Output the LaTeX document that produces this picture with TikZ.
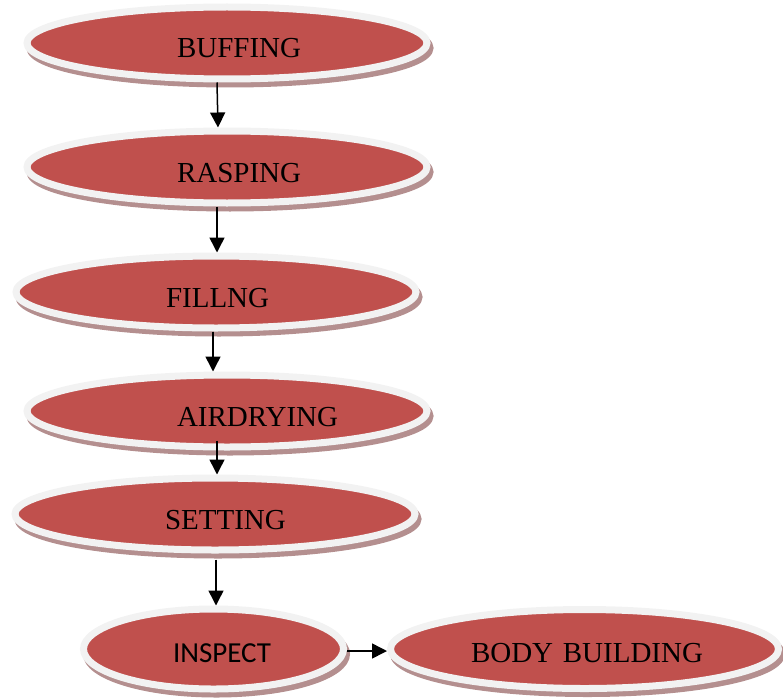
\documentclass[tikz,border=0pt]{standalone}
\usepackage{fontspec}
\setmainfont{Liberation Serif}
\newfontfamily\calibrifont{Carlito}
\usepackage{xcolor}
\usepackage{tikz}
\usetikzlibrary{arrows.meta,positioning,shapes.geometric,shadows}

\definecolor{stagered}{HTML}{C0504D}
\definecolor{stagering}{HTML}{F2F2F2}
\definecolor{stageshade}{HTML}{B48F8F}

\begin{document}
\begin{tikzpicture}[
  stage/.style={ellipse, draw=stagering, line width=7pt, fill=stagered,
                minimum width=400pt, minimum height=72pt, inner sep=0pt,
                text width=100pt, align=left, text height=30pt, text depth=0pt,
                font=\fontsize{29}{33}\selectfont,
                drop shadow={shadow xshift=3pt, shadow yshift=-5pt,
                             fill=stageshade, draw=stageshade, opacity=1}},
  endstage/.style={ellipse, draw=stagering, line width=7pt, fill=stagered,
                   inner sep=0pt, text height=26pt, text depth=0pt,
                   font=\fontsize{29}{33}\selectfont,
                   drop shadow={shadow xshift=3pt, shadow yshift=-5pt,
                                fill=stageshade, draw=stageshade, opacity=1}},
  arrow/.style={-{Triangle[length=15pt, width=15pt]}, line width=1.5pt}
]
  \useasboundingbox (0,0) rectangle (783pt,-698pt);

  % --- main column -------------------------------------------------
  \node[stage] (buff) at (227pt,-43pt) {BUFFING};
  \node[stage, below=45pt of buff] (rasp) {RASPING};
  \node[stage, below=46pt of rasp, xshift=-11pt] (filling) {FILLNG};
  \node[stage, below=40pt of filling, xshift=11pt] (air) {AIRDRYING};
  \node[stage, below=24pt of air, xshift=-12pt] (setting) {SETTING};

  % --- bottom row --------------------------------------------------
  \node[endstage, minimum width=260pt, minimum height=80pt,
        text width=81pt, align=left,
        below=52pt of setting, xshift=-1.5pt] (insp) {\calibrifont INSPECT};
  \node[endstage, minimum width=388pt, minimum height=79pt,
        text width=237pt, align=right,
        right=40pt of insp] (body) {BODY BUILDING};

  % --- arrows -------------------------------------------------------
  \draw[arrow] ([xshift=-10pt]buff.south) -- ([xshift=-9pt]rasp.north);
  \draw[arrow] ([xshift=-10pt]rasp.south) -- ([xshift=1pt]filling.north);
  \draw[arrow] ([xshift=-3pt]filling.south) -- ([xshift=-14pt]air.north);
  \draw[arrow] ([xshift=-10pt,yshift=10pt]air.south) -- ([xshift=2pt]setting.north);
  \draw[arrow] ([xshift=1pt,yshift=-6pt]setting.south) -- ([xshift=2.5pt]insp.north);
  \draw[arrow] ([yshift=-2pt]insp.east) -- ([yshift=-2pt]body.west);
\end{tikzpicture}
\end{document}
